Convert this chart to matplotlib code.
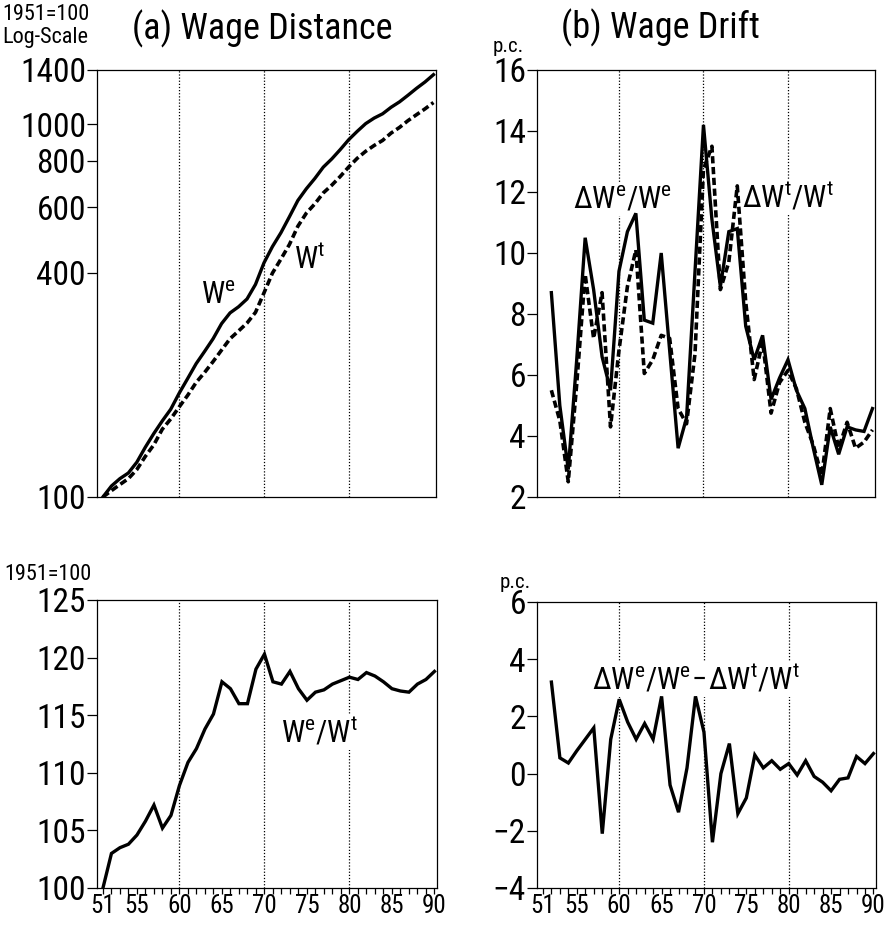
import matplotlib
matplotlib.use("Agg")
import matplotlib.pyplot as plt
from matplotlib.ticker import FixedLocator, MultipleLocator, NullLocator

plt.rcParams['font.family'] = ['Roboto Condensed', 'Liberation Sans Narrow',
                               'Liberation Sans', 'DejaVu Sans']
plt.rcParams['mathtext.fontset'] = 'custom'
plt.rcParams['mathtext.rm'] = 'Roboto Condensed'

# years
years = list(range(51, 91))
years_g = list(range(52, 91))

# (a) wage levels, 1951=100
we_level = [100, 107, 112, 116, 124, 136, 148, 160, 172, 190,
            208, 228, 246, 266, 292, 312, 324, 340, 372, 425,
            470, 512, 565, 625, 672, 716, 768, 808, 856, 910,
            958, 1005, 1040, 1068, 1112, 1150, 1198, 1250, 1300, 1360]
wt_level = [100, 104, 108, 112, 118.5, 128.5, 138, 152, 162, 174.5,
            187.5, 203, 216, 231, 248, 266, 279, 293, 313, 353,
            399, 435, 476, 533, 578, 612, 655, 687, 725, 769,
            811, 847, 878, 906, 948, 982, 1024, 1062, 1101, 1145]
# wage distance We/Wt
ratio = [100, 103.0, 103.5, 103.8, 104.6, 105.8, 107.2, 105.2, 106.3, 108.9,
         110.9, 112.1, 113.8, 115.1, 117.9, 117.3, 116.0, 116.0, 119.0, 120.3,
         117.9, 117.7, 118.8, 117.3, 116.3, 117.0, 117.2, 117.7, 118.0, 118.3,
         118.1, 118.7, 118.4, 117.9, 117.3, 117.1, 117.0, 117.7, 118.1, 118.8]

# (b) growth rates in p.c.
we_growth = [8.7, 5.0, 2.9, 6.5, 10.5, 8.8, 6.6, 5.5, 9.4, 10.7,
             11.3, 7.8, 7.7, 10.0, 6.8, 3.6, 4.6, 9.4, 14.2, 11.1,
             8.9, 10.7, 10.8, 7.6, 6.5, 7.3, 5.2, 5.9, 6.5, 5.5,
             4.9, 3.6, 2.4, 4.3, 3.4, 4.3, 4.2, 4.15, 4.9]
wt_growth = [5.5, 4.5, 2.5, 5.7, 9.3, 7.2, 8.7, 4.3, 6.8, 8.9,
             10.1, 6.05, 6.5, 7.3, 7.2, 4.9, 4.4, 6.7, 12.75, 13.5,
             8.8, 9.7, 12.2, 8.4, 5.85, 7.1, 4.75, 5.75, 6.15, 5.55,
             4.45, 3.7, 2.7, 4.9, 3.6, 4.45, 3.6, 3.8, 4.2]
drift_diff = [3.2, 0.55, 0.37, 0.8, 1.2, 1.6, -2.1, 1.2, 2.6, 1.8,
              1.2, 1.75, 1.2, 2.7, -0.4, -1.35, 0.2, 2.7, 1.45, -2.4,
              0.0, 1.05, -1.4, -0.85, 0.65, 0.2, 0.45, 0.15, 0.35, -0.05,
              0.45, -0.1, -0.3, -0.6, -0.2, -0.15, 0.6, 0.35, 0.7]

xtick_years = [51, 55, 60, 65, 70, 75, 80, 85, 90]
grid_years = [60, 70, 80]

fig = plt.figure(figsize=(8.94, 9.25), dpi=100)
W, H = 894, 925

def make_ax(x0, y0, x1, y1):
    # pixel box -> figure fraction
    return fig.add_axes([x0 / W, 1 - y1 / H, (x1 - x0) / W, (y1 - y0) / H])

ax1 = make_ax(97, 70, 436, 497)
ax2 = make_ax(537, 70, 875, 497)
ax3 = make_ax(97, 600, 437, 888)
ax4 = make_ax(537, 602, 876, 888)

solid = dict(color='black', lw=2.4, solid_joinstyle='miter', zorder=4)
dashed = dict(color='black', lw=2.6, linestyle=(0, (2.0, 1.0)), zorder=3)
lbl_font = 22

for ax in (ax1, ax2, ax3, ax4):
    ax.set_xlim(50.3, 90.3)
    for g in grid_years:
        ax.axvline(g, color='black', lw=0.9, linestyle=(0, (1, 1.5)), zorder=1)
    for s in ax.spines.values():
        s.set_linewidth(0.9)
    ax.tick_params(axis='y', direction='out', length=7, width=0.9,
                   labelsize=24, pad=1)

for ax in (ax1, ax2):
    ax.xaxis.set_major_locator(NullLocator())
    ax.xaxis.set_minor_locator(NullLocator())

for ax in (ax3, ax4):
    ax.set_xticks(xtick_years)
    ax.set_xticklabels([str(y) for y in xtick_years])
    ax.xaxis.set_minor_locator(MultipleLocator(1))
    ax.tick_params(axis='x', which='major', direction='out', length=4,
                   width=0.9, labelsize=18, pad=0)
    ax.tick_params(axis='x', which='minor', direction='out', length=4, width=0.9)

# (a) top: levels on log scale
ax1.set_yscale('log')
ax1.plot(years, we_level, **solid)
ax1.plot(years, wt_level, **dashed)
ax1.set_ylim(100, 1400)
ax1.yaxis.set_major_locator(FixedLocator([100, 400, 600, 800, 1000, 1400]))
ax1.yaxis.set_minor_locator(NullLocator())
ax1.set_yticklabels(['100', '400', '600', '800', '1000', '1400'])
ax1.text(0.357, 0.473, r'$\mathregular{W^e}$', transform=ax1.transAxes,
         fontsize=lbl_font, ha='center', va='center', zorder=2)
ax1.text(0.628, 0.555, r'$\mathregular{W^t}$', transform=ax1.transAxes,
         fontsize=lbl_font, ha='center', va='center', zorder=2)

# (b) top: growth rates
ax2.plot(years_g, we_growth, **solid)
ax2.plot(years_g, wt_growth, **dashed)
ax2.set_ylim(2, 16)
ax2.set_yticks([2, 4, 6, 8, 10, 12, 14, 16])
box = dict(facecolor='white', edgecolor='none', pad=1)
ax2.text(0.254, 0.696, r'$\mathregular{\Delta W^e/W^e}$', transform=ax2.transAxes,
         fontsize=lbl_font, ha='center', va='center', bbox=box, zorder=2)
ax2.text(0.743, 0.703, r'$\mathregular{\Delta W^t/W^t}$', transform=ax2.transAxes,
         fontsize=lbl_font, ha='center', va='center', bbox=box, zorder=2)

# (a) bottom: ratio
ax3.plot(years, ratio, **solid)
ax3.set_ylim(100, 125)
ax3.set_yticks([100, 105, 110, 115, 120, 125])
ax3.text(0.653, 0.541, r'$\mathregular{W^e/W^t}$', transform=ax3.transAxes,
         fontsize=lbl_font, ha='center', va='center', bbox=box, zorder=2)

# (b) bottom: drift difference
ax4.plot(years_g, drift_diff, **solid)
ax4.set_ylim(-4, 6)
ax4.set_yticks([-4, -2, 0, 2, 4, 6])
ax4.text(0.469, 0.731, r'$\mathregular{\Delta W^e/W^e\!-\!\Delta W^t/W^t}$',
         transform=ax4.transAxes, fontsize=lbl_font, ha='center', va='center',
         bbox=box, zorder=2)

# headers
fig.text(2 / W, 1 - 14 / H, '1951=100', fontsize=16, va='center', ha='left')
fig.text(2 / W, 1 - 38 / H, 'Log-Scale', fontsize=16, va='center', ha='left')
fig.text(262 / W, 1 - 29 / H, '(a) Wage Distance', fontsize=26, va='center', ha='center')
fig.text(660 / W, 1 - 28 / H, '(b) Wage Drift', fontsize=26, va='center', ha='center')
fig.text(493 / W, 1 - 47 / H, 'p.c.', fontsize=15, va='center', ha='left')
fig.text(4 / W, 1 - 574 / H, '1951=100', fontsize=16, va='center', ha='left')
fig.text(500 / W, 1 - 582 / H, 'p.c.', fontsize=15, va='center', ha='left')

fig.savefig('out.png', dpi=100)
